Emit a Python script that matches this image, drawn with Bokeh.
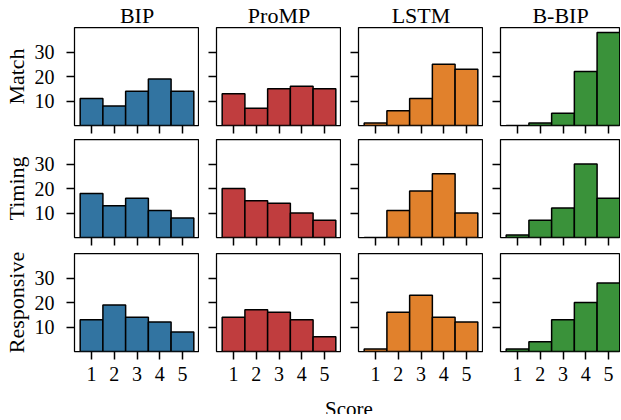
from bokeh.plotting import figure
from bokeh.layouts import row, column
from bokeh.models import Range1d, FixedTicker
from bokeh.embed import file_html
from bokeh.resources import INLINE
from bokeh.core.properties import value

# ---------------- data ----------------
methods = ["BIP", "ProMP", "LSTM", "B-BIP"]
criteria = ["Match", "Timing", "Responsive"]
scores = [1, 2, 3, 4, 5]
y_ticks = [10, 20, 30]

bip_match = [11, 8, 14, 19, 14]
promp_match = [13, 7, 15, 16, 15]
lstm_match = [1, 6, 11, 25, 23]
bbip_match = [0, 1, 5, 22, 38]

bip_timing = [18, 13, 16, 11, 8]
promp_timing = [20, 15, 14, 10, 7]
lstm_timing = [0, 11, 19, 26, 10]
bbip_timing = [1, 7, 12, 30, 16]

bip_resp = [13, 19, 14, 12, 8]
promp_resp = [14, 17, 16, 13, 6]
lstm_resp = [1, 16, 23, 14, 12]
bbip_resp = [1, 4, 13, 20, 28]

table = [
    [bip_match, promp_match, lstm_match, bbip_match],
    [bip_timing, promp_timing, lstm_timing, bbip_timing],
    [bip_resp, promp_resp, lstm_resp, bbip_resp],
]
colors = ["#3274a1", "#c03d3e", "#e1812c", "#3a923a"]

# ---------------- layout ----------------
FONT = "Liberation Serif"
TICK_FS = "20px"
LABEL_FS = "22px"
TITLE_FS = "22px"
FRAME_W = [125, 125, 125, 120]
FRAME_H = 98
GAP = 17
LEFT0 = 66
X0 = 0.25
PX_PER_UNIT = 125 / 5.5
Y_MAX = 40
BORDER_TOP = [24, 0, 6]
BORDER_BOTTOM = [14, 10, 38]
X_LABEL_STANDOFF = 7
SCORE_H = 25
SCORE_BASE = 6
SCORE_SHIFT = 7


def style_axis(ax, show_labels, standoff):
    ax.axis_line_color = None
    ax.major_tick_out = 8
    ax.major_tick_in = 0
    ax.minor_tick_out = 0
    ax.minor_tick_in = 0
    ax.major_tick_line_color = "black"
    ax.major_tick_line_width = 1.5
    ax.major_label_text_font = FONT
    if show_labels:
        ax.major_label_text_color = "black"
        ax.major_label_text_font_size = TICK_FS
        ax.major_label_standoff = standoff
    else:
        ax.major_label_text_color = None
        ax.major_label_text_font_size = "0px"
        ax.major_label_standoff = 0


rows = []
for r in range(3):
    figs = []
    for c in range(4):
        fw = FRAME_W[c]
        p = figure(
            frame_width=fw, frame_height=FRAME_H,
            x_range=Range1d(X0, X0 + fw / PX_PER_UNIT),
            y_range=Range1d(0, Y_MAX),
            output_backend="svg", toolbar_location=None,
            min_border_left=LEFT0 if c == 0 else GAP,
            min_border_right=0,
            min_border_top=BORDER_TOP[r],
            min_border_bottom=BORDER_BOTTOM[r],
            title=methods[c] if r == 0 else None,
        )
        p.vbar(x=scores, top=table[r][c], bottom=0, width=1.0,
               fill_color=colors[c], fill_alpha=1.0,
               line_color="black", line_width=1.5)
        p.xaxis.ticker = FixedTicker(ticks=scores)
        p.yaxis.ticker = FixedTicker(ticks=y_ticks)
        style_axis(p.xaxis[0], r == 2, X_LABEL_STANDOFF)
        style_axis(p.yaxis[0], c == 0, 12)
        if c == 0:
            p.yaxis.axis_label = criteria[r]
            p.yaxis.axis_label_text_font = FONT
            p.yaxis.axis_label_text_font_size = LABEL_FS
            p.yaxis.axis_label_text_font_style = "normal"
            p.yaxis.axis_label_text_color = "black"
            p.yaxis.axis_label_standoff = 3
        if r == 0:
            p.title.text_font = FONT
            p.title.text_font_size = TITLE_FS
            p.title.text_font_style = "normal"
            p.title.text_color = "black"
            p.title.align = "center"
            p.title.standoff = 0
        p.grid.visible = False
        p.outline_line_color = "black"
        p.outline_line_width = 1.25
        p.outline_line_alpha = 1.0
        p.background_fill_color = "white"
        p.border_fill_color = "white"
        figs.append(p)
    rows.append(row(*figs, spacing=0))

total_w = LEFT0 + sum(FRAME_W) + 3 * GAP
grid_center = (LEFT0 + LEFT0 + 4 * 125 + 3 * GAP) / 2
sf = figure(frame_width=total_w, frame_height=SCORE_H,
            x_range=Range1d(0, total_w), y_range=Range1d(0, SCORE_H),
            output_backend="svg", toolbar_location=None, title=None,
            min_border=0, min_border_left=0, min_border_right=0,
            min_border_top=0, min_border_bottom=0)
sf.axis.visible = False
sf.grid.visible = False
sf.outline_line_color = None
sf.text(x=[grid_center + SCORE_SHIFT], y=[SCORE_BASE], text=["Score"],
        text_align="center", text_baseline="alphabetic",
        text_font=value(FONT), text_font_size="21px", text_color="black")

layout = column(*rows, sf, spacing=0)
open("out.html", "w").write(file_html(layout, INLINE))
